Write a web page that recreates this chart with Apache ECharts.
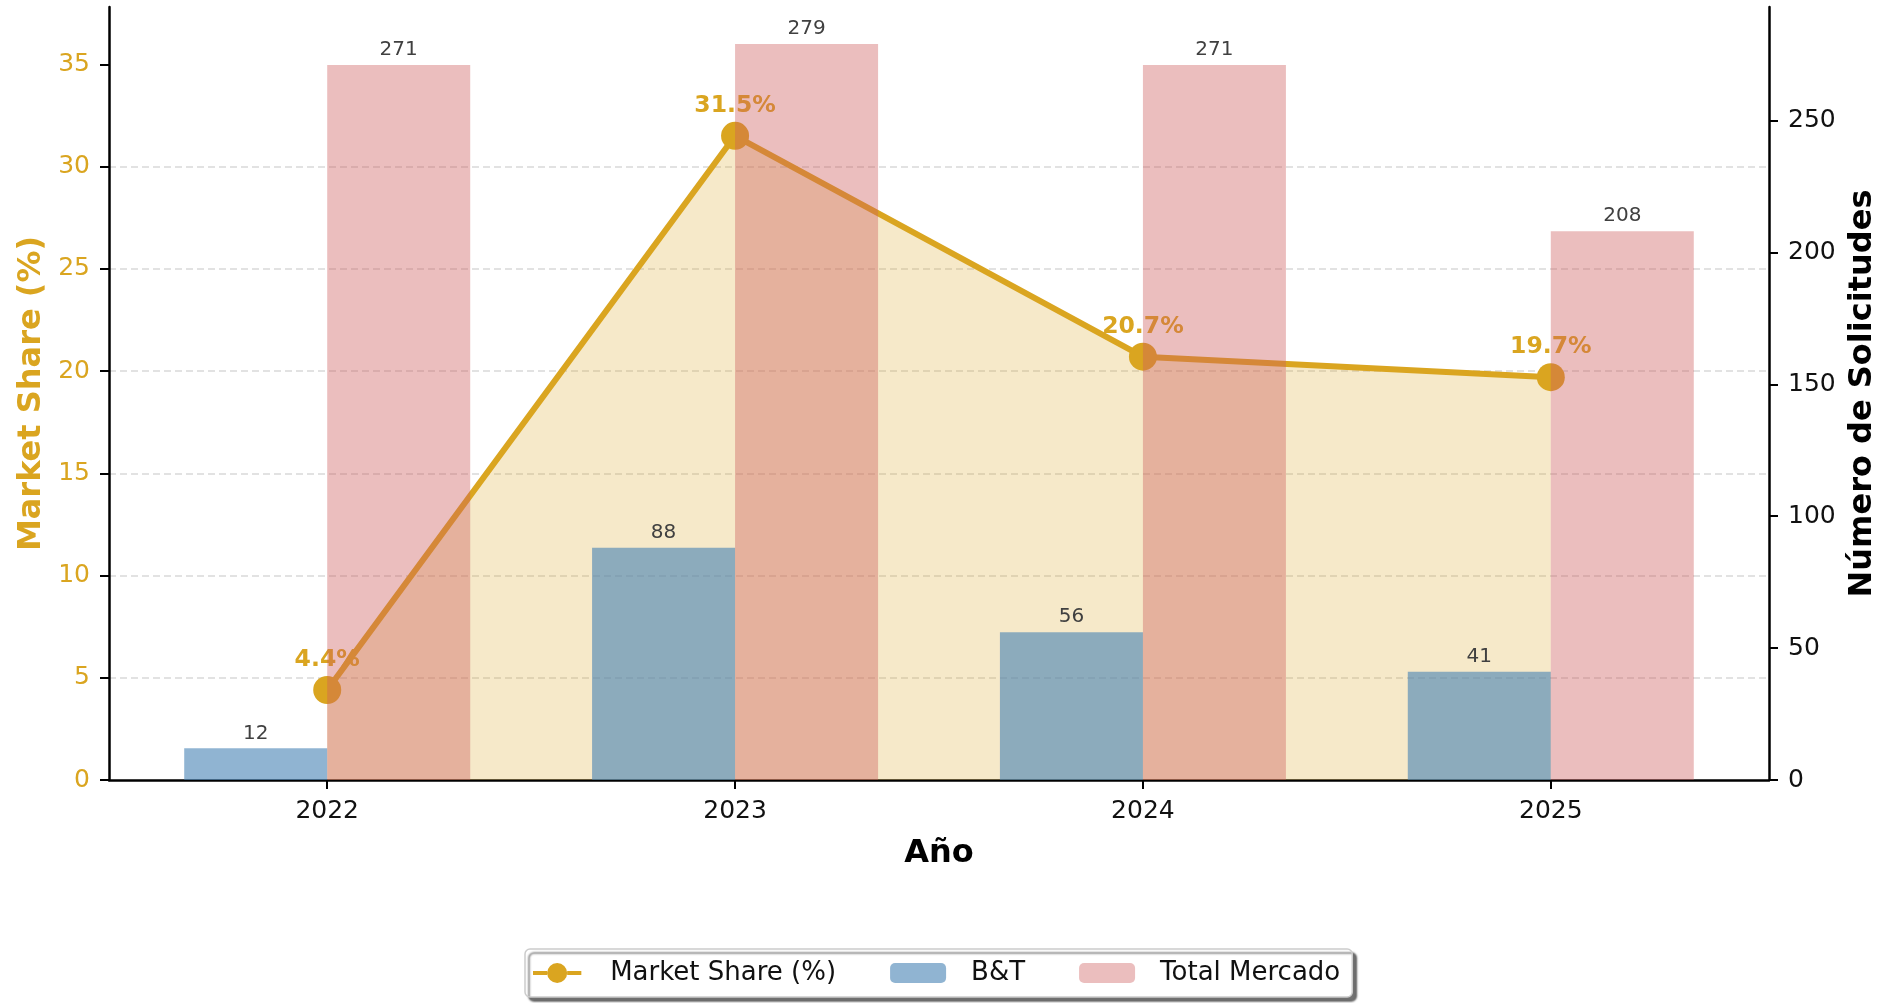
<!DOCTYPE html>
<html>
<head>
<meta charset="utf-8">
<script src="https://cdn.jsdelivr.net/npm/echarts@6/dist/echarts.min.js"></script>
<style>
  html, body { margin: 0; padding: 0; background: #fff; }
  #chart { width: 1900px; height: 1003px; }
</style>
</head>
<body>
<div id="chart"></div>
<script>
// data
const years = ['2022', '2023', '2024', '2025'];
const btValues = [12, 88, 56, 41];
const totalValues = [271, 279, 271, 208];
const shareValues = [4.4, 31.5, 20.7, 19.7];
const shareTicks = [0, 5, 10, 15, 20, 25, 30, 35];
const countTicks = [0, 50, 100, 150, 200, 250];
const yearTicks = [0, 1, 2, 3];

const FONT = 'DejaVu Sans';
const GOLD = '#DAA520';

// line + big dot legend handle, like the matplotlib one
const lineHandle = 'path://M0,9.6L17,9.6L17,14.4L0,14.4Z' +
  'M41,9.6L58,9.6L58,14.4L41,14.4Z' +
  'M17,12A12,12 0 1,1 41,12A12,12 0 1,1 17,12Z';

const chart = echarts.init(document.getElementById('chart'), null, { renderer: 'canvas' });

const option = {
  backgroundColor: '#ffffff',
  animation: false,
  textStyle: { fontFamily: FONT },
  grid: { left: 109, right: 131, top: 7, bottom: 223, containLabel: false },
  legend: {
    left: 525,
    top: 949,
    itemWidth: 56,
    itemHeight: 20,
    itemGap: 54,
    padding: [11, 12, 11, 8],
    backgroundColor: '#ffffff',
    borderColor: '#cccccc',
    borderWidth: 1.5,
    borderRadius: 5,
    shadowColor: 'rgba(0,0,0,0.55)',
    shadowBlur: 2,
    shadowOffsetX: 4,
    shadowOffsetY: 4,
    textStyle: { fontFamily: FONT, fontSize: 26, color: '#111', padding: [0, 0, 0, 20] },
    data: [
      { name: 'Market Share (%)', icon: lineHandle, itemStyle: { color: GOLD } },
      'B&T',
      'Total Mercado'
    ]
  },
  xAxis: {
    type: 'value',
    min: -0.535,
    max: 3.535,
    name: 'Año',
    nameLocation: 'middle',
    nameGap: 58,
    nameTextStyle: { fontFamily: FONT, fontSize: 32, fontWeight: 'bold', color: '#000' },
    axisLine: { onZero: false, lineStyle: { color: '#000', width: 2.5 } },
    axisTick: { customValues: yearTicks, length: 9, lineStyle: { color: '#000', width: 2 } },
    axisLabel: {
      customValues: yearTicks,
      formatter: v => years[v],
      fontSize: 25, color: '#111', margin: 19
    },
    splitLine: { show: false }
  },
  yAxis: [
    {
      type: 'value',
      min: 0,
      max: 37.8,
      position: 'left',
      name: 'Market Share (%)',
      nameLocation: 'middle',
      nameRotate: 90,
      nameGap: 61,
      nameTextStyle: { fontFamily: FONT, fontSize: 32, fontWeight: 'bold', color: GOLD },
      axisLine: { show: true, onZero: false, lineStyle: { color: '#000', width: 2.5 } },
      axisTick: { show: true, customValues: shareTicks, length: 9, lineStyle: { color: '#000', width: 2 } },
      axisLabel: { customValues: shareTicks, fontSize: 25, color: GOLD, margin: 19 },
      splitLine: {
        show: true, showMaxLine: false, showMinLine: false,
        lineStyle: { color: '#d9d9d9', type: [7, 4], width: 1.5 }
      }
    },
    {
      type: 'value',
      min: 0,
      max: 293,
      position: 'right',
      name: 'Número de Solicitudes',
      nameLocation: 'middle',
      nameRotate: 90,
      nameGap: 78,
      nameTextStyle: { fontFamily: FONT, fontSize: 32, fontWeight: 'bold', color: '#000' },
      axisLine: { show: true, onZero: false, lineStyle: { color: '#000', width: 2.5 } },
      axisTick: { show: true, customValues: countTicks, length: 9, lineStyle: { color: '#000', width: 2 } },
      axisLabel: { customValues: countTicks, fontSize: 25, color: '#111', margin: 19 },
      splitLine: { show: false }
    }
  ],
  series: [
    {
      name: 'Market Share (%)',
      type: 'line',
      xAxisIndex: 0,
      yAxisIndex: 0,
      z: 2,
      data: shareValues.map((v, i) => [i, v]),
      symbol: 'circle',
      symbolSize: 28,
      lineStyle: { color: GOLD, width: 6 },
      itemStyle: { color: GOLD },
      areaStyle: { color: 'rgba(218,165,32,0.35)' },
      label: {
        show: true,
        position: 'top',
        distance: 4,
        formatter: p => p.value[1].toFixed(1) + '%',
        fontFamily: FONT,
        fontSize: 23.5,
        fontWeight: 'bold',
        color: GOLD
      },
      emphasis: { disabled: true }
    },
    {
      name: 'B&T',
      type: 'bar',
      xAxisIndex: 0,
      yAxisIndex: 1,
      z: 3,
      barWidth: 143,
      barGap: '0%',
      data: btValues.map((v, i) => [i, v]),
      itemStyle: { color: 'rgba(70,130,180,0.6)' },
      label: {
        show: true, position: 'top', distance: 5,
        formatter: p => p.value[1],
        fontFamily: FONT, fontSize: 20, color: '#404040'
      },
      emphasis: { disabled: true }
    },
    {
      name: 'Total Mercado',
      type: 'bar',
      xAxisIndex: 0,
      yAxisIndex: 1,
      z: 3,
      barWidth: 143,
      barGap: '0%',
      data: totalValues.map((v, i) => [i, v]),
      itemStyle: { color: 'rgba(205,92,92,0.4)' },
      label: {
        show: true, position: 'top', distance: 5,
        formatter: p => p.value[1],
        fontFamily: FONT, fontSize: 20, color: '#404040'
      },
      emphasis: { disabled: true }
    }
  ]
};

chart.setOption(option);
</script>
</body>
</html>
